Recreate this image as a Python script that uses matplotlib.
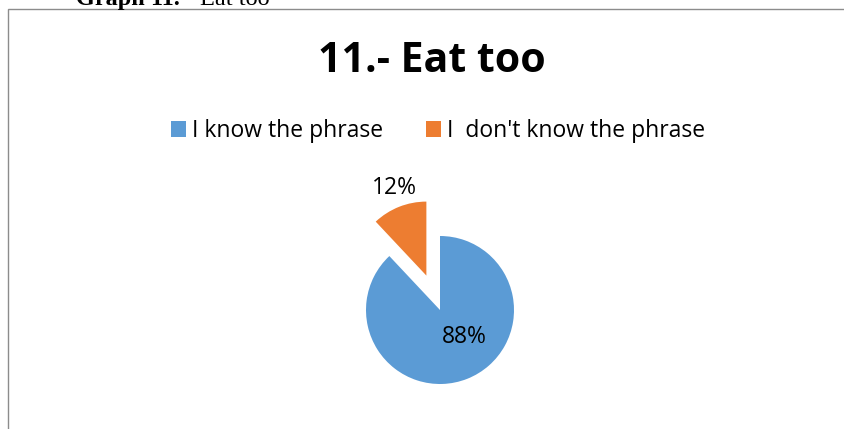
import matplotlib
matplotlib.use("Agg")
import matplotlib.pyplot as plt
from matplotlib.patches import Rectangle

# survey answers for item 11
categories = ["I know the phrase", "I  don't know the phrase"]
shares = [88, 12]
colors = ["#5B9BD5", "#ED7D31"]
title = "11.- Eat too"

W, H = 844, 429
fig = plt.figure(figsize=(W / 100, H / 100), dpi=100)
ax = fig.add_axes([0, 0, 1, 1])

# chart frame (runs off the right and bottom of the page)
ax.add_patch(Rectangle((8, -5), 900, H - 9 + 5, fill=False,
                       edgecolor="#8c8c8c", linewidth=1.0))

# caption above the frame, cut off by the top of the page
fig.text(76 / W, 1 - 5 / H, "Graph 11.", family="Liberation Serif",
         fontweight="bold", fontsize=17.5, va="baseline", ha="left")
fig.text(200 / W, 1 - 5 / H, "Eat too", family="Liberation Serif",
         fontsize=17.5, va="baseline", ha="left")

cx, cy, r = 440, H - 310, 74
# explode is in data units, so pull the small slice out by half a radius
wedges, _ = ax.pie(shares, colors=colors, startangle=90, counterclock=False,
                   explode=[0, 0.5 * r], center=(cx, cy), radius=r, frame=True)

# percentage labels
ax.text(cx + 24, cy - 27, f"{shares[0]}%", fontsize=16.5, family="Open Sans",
        ha="center", va="center")
ax.text(cx - 46, cy + 122, f"{shares[1]}%", fontsize=16.5, family="Open Sans",
        ha="center", va="center")

ax.set_xlim(0, W)
ax.set_ylim(0, H)
ax.set_aspect("auto")
ax.axis("off")

fig.text(432 / W, 1 - 62 / H, title, fontsize=29.5, fontweight="bold",
         family="Open Sans", ha="center", va="center")

fig.legend(wedges, categories, loc="center", bbox_to_anchor=(438 / W, 1 - 131 / H),
           ncol=2, frameon=False, handlelength=0.65, handleheight=0.65,
           handletextpad=0.25, columnspacing=1.9,
           prop={"family": "Open Sans", "size": 16.5})

fig.savefig("out.png", dpi=100)
